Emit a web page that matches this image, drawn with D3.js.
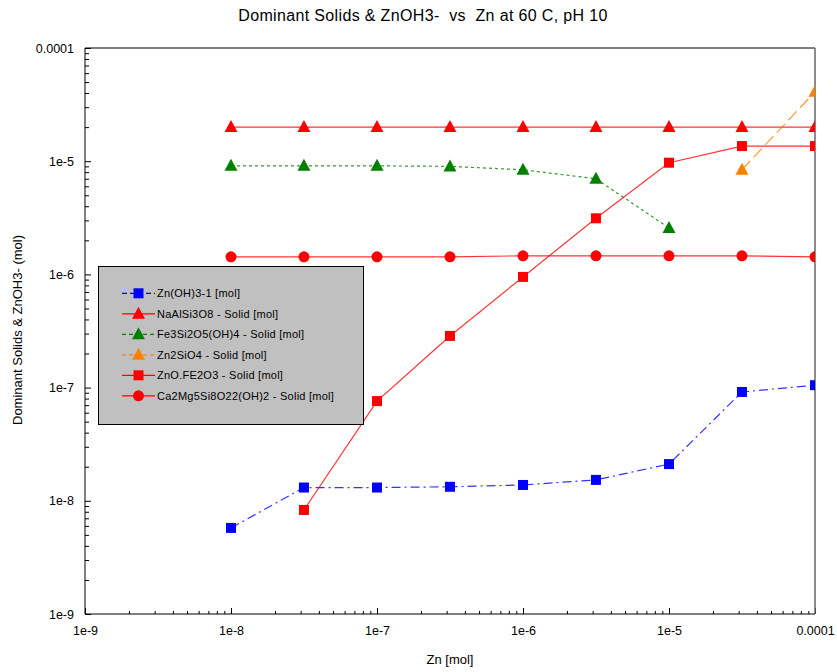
<!DOCTYPE html>
<html><head><meta charset="utf-8">
<script src="https://cdn.jsdelivr.net/npm/d3@7"></script>
<style>body{margin:0;background:#fff}text{font-family:"Liberation Sans",Arial,sans-serif}</style>
</head><body>
<svg id="c" width="837" height="672"></svg>
<script>
const xVals = [1e-8, 3.16e-8, 1e-7, 3.16e-7, 1e-6, 3.16e-6, 1e-5, 3.16e-5, 1e-4];
const znOH3 = [5.76e-9, 1.31e-8, 1.31e-8, 1.33e-8, 1.38e-8, 1.53e-8, 2.11e-8, 9.15e-8, 1.05e-7];
const naAlSi3O8 = [2.0e-5, 2.0e-5, 2.0e-5, 2.0e-5, 2.0e-5, 2.0e-5, 2.0e-5, 2.0e-5, 2.0e-5];
const fe3Si2O5 = [9.1e-6, 9.1e-6, 9.1e-6, 9.0e-6, 8.4e-6, 7.0e-6, 2.57e-6, null, null];
const zn2SiO4 = [null, null, null, null, null, null, null, 8.4e-6, 4.1e-5];
const znOFe2O3 = [null, 8.3e-9, 7.6e-8, 2.86e-7, 9.5e-7, 3.13e-6, 9.7e-6, 1.36e-5, 1.36e-5];
const ca2Mg5 = [1.43e-6, 1.43e-6, 1.43e-6, 1.43e-6, 1.46e-6, 1.46e-6, 1.46e-6, 1.46e-6, 1.43e-6];
const seriesNames = ["Zn(OH)3-1 [mol]", "NaAlSi3O8 - Solid [mol]", "Fe3Si2O5(OH)4 - Solid [mol]", "Zn2SiO4 - Solid [mol]", "ZnO.FE2O3 - Solid [mol]", "Ca2Mg5Si8O22(OH)2 - Solid [mol]"];
const xTickLabels = ["1e-9", "1e-8", "1e-7", "1e-6", "1e-5", "0.0001"];
const yTickLabels = ["1e-9", "1e-8", "1e-7", "1e-6", "1e-5", "0.0001"];
const decades = [1e-9, 1e-8, 1e-7, 1e-6, 1e-5, 1e-4];

const series = [
  {name: seriesNames[0], vals: znOH3, color: "#0000ff", dash: "9,4,2,4", marker: "square"},
  {name: seriesNames[1], vals: naAlSi3O8, color: "#ff0000", dash: null, marker: "triangle"},
  {name: seriesNames[2], vals: fe3Si2O5, color: "#008000", dash: "3,3", marker: "triangle"},
  {name: seriesNames[3], vals: zn2SiO4, color: "#ff8000", dash: "12,5", marker: "triangle"},
  {name: seriesNames[4], vals: znOFe2O3, color: "#ff0000", dash: null, marker: "square"},
  {name: seriesNames[5], vals: ca2Mg5, color: "#ff0000", dash: null, marker: "circle"}
];

const svg = d3.select("#c");
const L = 85, R = 815, T = 48, B = 614;
const x = d3.scaleLog().domain([1e-9, 1e-4]).range([L, R]);
const y = d3.scaleLog().domain([1e-9, 1e-4]).range([B, T]);

svg.append("defs").append("clipPath").attr("id", "clip")
  .append("rect").attr("x", L).attr("y", T).attr("width", R - L).attr("height", B - T);

const minor = [];
decades.slice(0, 5).forEach(d => { for (let k = 2; k <= 9; k++) minor.push(d * k); });

const xAxis = d3.axisBottom(x).tickValues(decades).tickSize(-6).tickPadding(12)
  .tickFormat((d, i) => xTickLabels[i]);
const gx = svg.append("g").attr("transform", `translate(0,${B})`).call(xAxis);
gx.select(".domain").remove();
gx.selectAll(".tick text").attr("font-size", 12.5).attr("fill", "#000");
const gxm = svg.append("g").attr("transform", `translate(0,${B})`)
  .call(d3.axisBottom(x).tickValues(minor).tickSize(-3).tickFormat(""));
gxm.select(".domain").remove();

const yAxis = d3.axisLeft(y).tickValues(decades).tickSize(-6).tickPadding(11)
  .tickFormat((d, i) => yTickLabels[i]);
const gy = svg.append("g").attr("transform", `translate(${L},0)`).call(yAxis);
gy.select(".domain").remove();
gy.selectAll(".tick text").attr("font-size", 12.5).attr("fill", "#000");
const gym = svg.append("g").attr("transform", `translate(${L},0)`)
  .call(d3.axisLeft(y).tickValues(minor).tickSize(-4).tickFormat(""));
gym.select(".domain").remove();

// frame
svg.append("line").attr("x1", L).attr("x2", R).attr("y1", T).attr("y2", T).attr("stroke", "#000");
svg.append("line").attr("x1", L).attr("x2", R).attr("y1", B).attr("y2", B).attr("stroke", "#000");
svg.append("line").attr("x1", L).attr("x2", L).attr("y1", T).attr("y2", B).attr("stroke", "#000");
svg.append("line").attr("x1", R).attr("x2", R).attr("y1", T).attr("y2", B).attr("stroke", "#666").attr("stroke-width", 1.5);

// titles
svg.append("text").attr("x", 423).attr("y", 21).attr("text-anchor", "middle").attr("font-size", 16)
  .attr("letter-spacing", 0.35).style("white-space", "pre").attr("xml:space", "preserve")
  .text("Dominant Solids & ZnOH3-  vs  Zn at 60 C, pH 10");
svg.append("text").attr("x", 450).attr("y", 664).attr("text-anchor", "middle").attr("font-size", 13).text("Zn [mol]");
svg.append("text").attr("transform", "translate(22,330) rotate(-90)").attr("text-anchor", "middle").attr("font-size", 13).text("Dominant Solids & ZnOH3- (mol)");

function drawMarker(g, type, cx, cy, color) {
  if (type === "square") {
    g.append("rect").attr("x", cx - 5).attr("y", cy - 5).attr("width", 10).attr("height", 10).attr("fill", color);
  } else if (type === "triangle") {
    g.append("path").attr("d", `M${cx},${cy - 7}L${cx + 6.5},${cy + 5}L${cx - 6.5},${cy + 5}Z`).attr("fill", color);
  } else {
    g.append("circle").attr("cx", cx).attr("cy", cy).attr("r", 5.5).attr("fill", color);
  }
}

const plot = svg.append("g").attr("clip-path", "url(#clip)");
const line = d3.line().defined(d => d[1] != null).x(d => x(d[0])).y(d => y(d[1]));
series.forEach(s => {
  const pts = xVals.map((xv, i) => [xv, s.vals[i]]);
  plot.append("path").attr("d", line(pts)).attr("fill", "none").attr("stroke", s.color)
    .attr("stroke-width", 1.2).attr("stroke-opacity", 0.8).attr("stroke-dasharray", s.dash);
});
series.forEach(s => {
  xVals.forEach((xv, i) => {
    if (s.vals[i] != null) drawMarker(plot, s.marker, x(xv), y(s.vals[i]), s.color);
  });
});

// legend
const lg = svg.append("g");
lg.append("rect").attr("x", 98.5).attr("y", 266.5).attr("width", 265).attr("height", 158)
  .attr("fill", "#c0c0c0").attr("stroke", "#000").attr("stroke-width", 1);
series.forEach((s, i) => {
  const cy = 293.3 + i * 20.5;
  lg.append("line").attr("x1", 122).attr("x2", 155).attr("y1", cy).attr("y2", cy)
    .attr("stroke", s.color).attr("stroke-width", 1.2).attr("stroke-dasharray", s.dash ? (s.marker === "square" ? "5,3" : "4,3") : null);
  drawMarker(lg, s.marker, 138.5, cy, s.color);
  lg.append("text").attr("x", 157).attr("y", cy + 4).attr("font-size", 11).attr("letter-spacing", 0.25).text(s.name);
});
</script>
</body></html>
